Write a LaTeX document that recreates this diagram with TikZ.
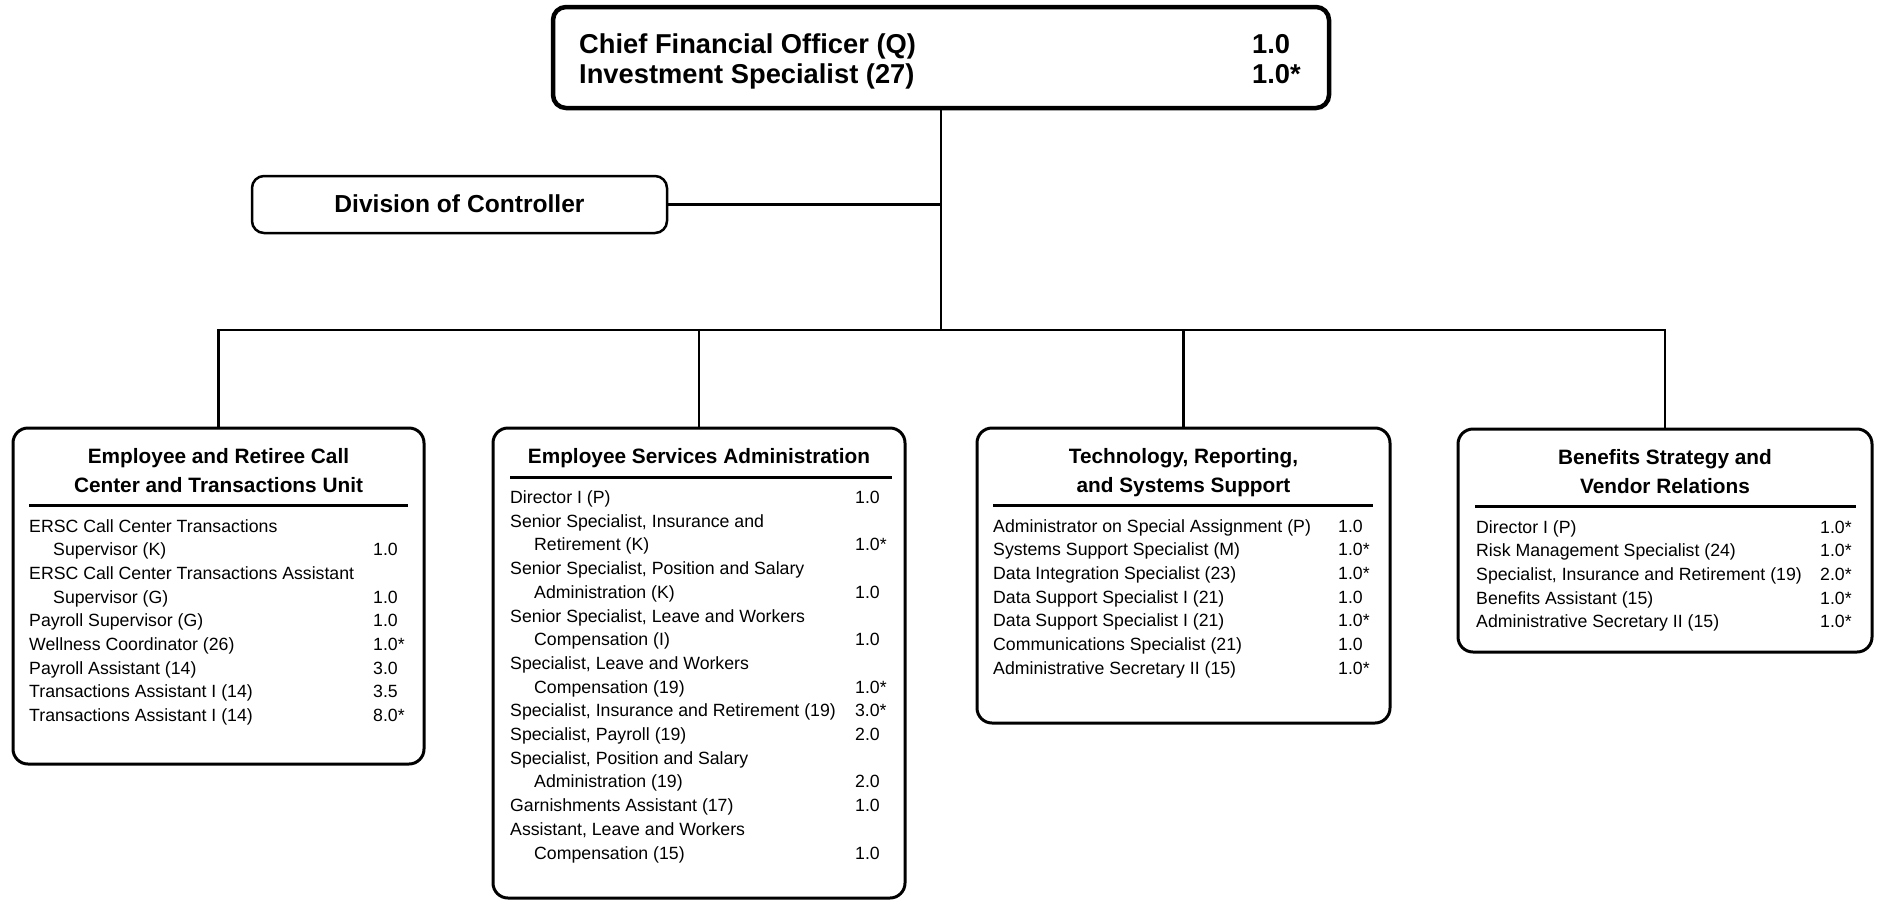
\documentclass[tikz,border=0pt]{standalone}
\usepackage{fontspec}
\setmainfont{Liberation Sans}
\usepackage{array}
\newcommand\indnt{\hspace*{24pt}}

\begin{document}
\begin{tikzpicture}[x=1pt,y=-1pt,
  unitbox/.style={draw, rounded corners=15pt, line width=3pt, inner sep=0pt},
  topbox/.style={draw, rounded corners=13pt, line width=4.5pt, inner sep=0pt,
    minimum width=776pt, minimum height=101pt},
  divbox/.style={draw, rounded corners=12pt, line width=2.5pt, inner sep=0pt,
    minimum width=415pt, minimum height=57pt,
    font=\bfseries\fontsize{24.6}{30}\selectfont},
  conn/.style={line width=2.8pt},
  hrule/.style={line width=3pt},
  toptext/.style={anchor=base west, inner sep=0pt,
    font=\bfseries\fontsize{27.3}{30}\selectfont},
  headtext/.style={anchor=base, inner sep=0pt,
    font=\bfseries\fontsize{20.8}{29}\selectfont},
  bodytext/.style={anchor=base west, inner sep=0pt,
    font=\fontsize{17.7}{23.7}\selectfont},
]
\useasboundingbox (0,0) rectangle (1877,900);

% ---- top of the organisation ----
\node[topbox] (cfo) at (941,57.5) {};
\node[toptext] (cfo-a) at (579,53) {Chief Financial Officer (Q)};
\node[toptext] (cfo-b) at (579,83) {Investment Specialist (27)};
\node[toptext] (cfo-an) at (1252,53) {1.0};
\node[toptext] (cfo-bn) at (1252,83) {1.0*};

\node[divbox] (div) at (459.5,204.5) {\raisebox{2pt}{Division of Controller}};

% ---- unit boxes ----
\node[unitbox, minimum width=411pt, minimum height=336pt] (u1) at (218.5,596) {};
\node[unitbox, minimum width=412pt, minimum height=470pt] (u2) at (699,663) {};
\node[unitbox, minimum width=413pt, minimum height=295pt] (u3) at (1183.5,575.5) {};
\node[unitbox, minimum width=414pt, minimum height=223pt] (u4) at (1665,540.5) {};

% ---- connectors ----
\coordinate (hub) at (941,330);
\draw[conn] (cfo.south) -- (hub);
\draw[conn] (div.east) -- (div.east -| hub);
\draw[conn] (u1.north) |- (hub) -| (u4.north);
\draw[conn] (u2.north) -- (u2.north |- hub);
\draw[conn] (u3.north) -- (u3.north |- hub);

% ---- unit 1 ----
\node[headtext] (h1) at (218.5,463) {\begin{tabular}[t]{@{}c@{}}Employee and Retiree Call\\ Center and Transactions Unit\end{tabular}};
\draw[hrule] (29,505) -- (408,505);
\node[bodytext] (b1) at (29,532) {\begin{tabular}[t]{@{}p{344pt}@{}l@{}}
ERSC Call Center Transactions & \\
\indnt Supervisor (K) & 1.0\\
ERSC Call Center Transactions Assistant & \\
\indnt Supervisor (G) & 1.0\\
Payroll Supervisor (G) & 1.0\\
Wellness Coordinator (26) & 1.0*\\
Payroll Assistant (14) & 3.0\\
Transactions Assistant I (14) & 3.5\\
Transactions Assistant I (14) & 8.0*
\end{tabular}};

% ---- unit 2 ----
\node[headtext] (h2) at (699,463) {Employee Services Administration};
\draw[hrule] (510,477) -- (892,477);
\node[bodytext] (b2) at (510,503.5) {\begin{tabular}[t]{@{}p{345pt}@{}l@{}}
Director I (P) & 1.0\\
Senior Specialist, Insurance and & \\
\indnt Retirement (K) & 1.0*\\
Senior Specialist, Position and Salary & \\
\indnt Administration (K) & 1.0\\
Senior Specialist, Leave and Workers & \\
\indnt Compensation (I) & 1.0\\
Specialist, Leave and Workers & \\
\indnt Compensation (19) & 1.0*\\
Specialist, Insurance and Retirement (19) & 3.0*\\
Specialist, Payroll (19) & 2.0\\
Specialist, Position and Salary & \\
\indnt Administration (19) & 2.0\\
Garnishments Assistant (17) & 1.0\\
Assistant, Leave and Workers & \\
\indnt Compensation (15) & 1.0
\end{tabular}};

% ---- unit 3 ----
\node[headtext] (h3) at (1183.5,463) {\begin{tabular}[t]{@{}c@{}}Technology, Reporting,\\ and Systems Support\end{tabular}};
\draw[hrule] (993,505) -- (1373,505);
\node[bodytext] (b3) at (993,532) {\begin{tabular}[t]{@{}p{345pt}@{}l@{}}
Administrator on Special Assignment (P) & 1.0\\
Systems Support Specialist (M) & 1.0*\\
Data Integration Specialist (23) & 1.0*\\
Data Support Specialist I (21) & 1.0\\
Data Support Specialist I (21) & 1.0*\\
Communications Specialist (21) & 1.0\\
Administrative Secretary II (15) & 1.0*
\end{tabular}};

% ---- unit 4 ----
\node[headtext] (h4) at (1665,464) {\begin{tabular}[t]{@{}c@{}}Benefits Strategy and\\ Vendor Relations\end{tabular}};
\draw[hrule] (1475,506) -- (1856,506);
\node[bodytext] (b4) at (1476,533) {\begin{tabular}[t]{@{}p{344pt}@{}l@{}}
Director I (P) & 1.0*\\
Risk Management Specialist (24) & 1.0*\\
Specialist, Insurance and Retirement (19) & 2.0*\\
Benefits Assistant (15) & 1.0*\\
Administrative Secretary II (15) & 1.0*
\end{tabular}};
\end{tikzpicture}
\end{document}
